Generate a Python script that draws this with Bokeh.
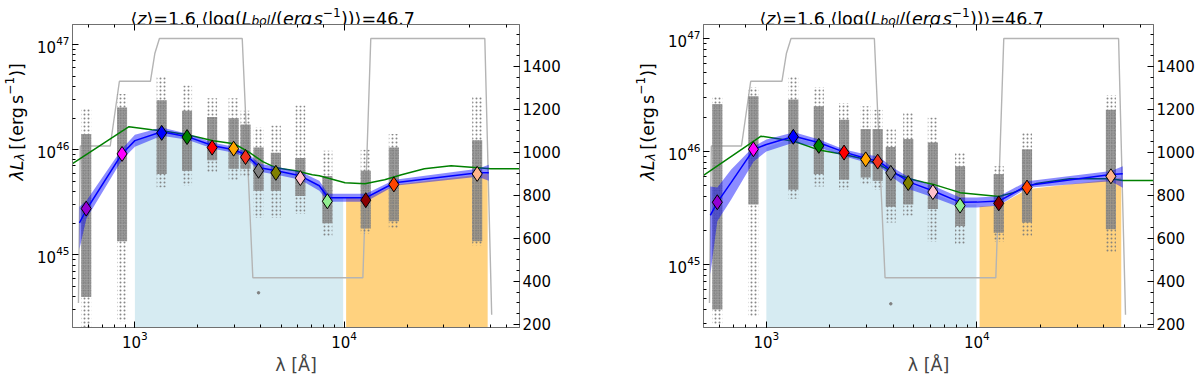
import math
from bokeh.plotting import figure
from bokeh.layouts import row, column
from bokeh.models import (Range1d, LinearAxis, LogAxis, LogTicker, Label,
                          SingleIntervalTicker, LinearScale)
from bokeh.embed import file_html
from bokeh.resources import INLINE

FONT = "DejaVu Sans"

# ---------------- data ----------------
band_lam = [585, 868, 1343, 1775, 2340, 2965, 3380, 3900, 4720, 6180, 8320, 12700, 17300, 43300]
band_colors = ["darkviolet", "magenta", "blue", "green", "red", "orange", "#f0321e",
               "gray", "olive", "pink", "lightgreen", "darkred", "orangered", "#ffb38a"]

# median SED points (log10 lambda L_lambda)
left_diamond_logL = [45.44, 45.96, 46.16, 46.12, 46.02, 46.01, 45.93, 45.80, 45.78, 45.73, 45.51, 45.52, 45.67, 45.77]
right_diamond_logL = [45.55, 46.02, 46.13, 46.05, 45.99, 45.93, 45.91, 45.81, 45.72, 45.64, 45.52, 45.54, 45.68, 45.78]

# individual sources per band: dense core range and sparse range (log10)
left_core_lo = [44.60, 45.13, 45.77, 45.80, 45.90, 45.82, 45.82, 45.61, 45.61, 45.56, 45.30, 45.25, 45.32, 45.13]
left_core_hi = [46.15, 46.40, 46.47, 46.37, 46.31, 46.30, 46.24, 46.02, 45.97, 45.92, 45.75, 45.80, 46.02, 46.09]
left_tail_lo = [44.30, 44.37, 45.64, 45.66, 45.78, 45.71, 45.75, 45.35, 45.35, 45.39, 45.18, 45.20, 45.25, 45.09]
left_tail_hi = [46.39, 46.53, 46.70, 46.61, 46.49, 46.49, 46.37, 46.21, 46.23, 46.42, 45.99, 46.00, 46.15, 46.51]
right_core_lo = [44.60, 45.53, 45.66, 45.80, 45.75, 45.77, 45.74, 45.51, 45.53, 45.49, 45.34, 45.28, 45.37, 45.31]
right_core_hi = [46.42, 46.49, 46.46, 46.40, 46.28, 46.20, 46.20, 46.04, 46.11, 46.08, 45.87, 45.80, 46.02, 46.37]
right_tail_lo = [44.47, 44.54, 45.58, 45.69, 45.66, 45.71, 45.66, 45.37, 45.43, 45.20, 45.18, 45.20, 45.25, 45.11]
right_tail_hi = [46.49, 46.57, 46.66, 46.57, 46.43, 46.40, 46.37, 46.20, 46.35, 46.30, 45.99, 45.87, 46.17, 46.50]
left_outlier_lam = [3900]
left_outlier_logL = [44.64]
right_outlier_lam = [3900]
right_outlier_logL = [44.65]

# mean SED (blue line) with its uncertainty band
left_blue_lam = [543, 586, 868, 1000, 1343, 1783, 2366, 2976, 3395, 3955, 4761, 6180, 7613, 8395, 10000, 12710, 17450, 43630, 49200]
left_blue_logL = [45.305, 45.429, 45.962, 46.086, 46.171, 46.124, 46.038, 46.0, 45.952, 45.829, 45.80, 45.752, 45.657, 45.543, 45.543, 45.543, 45.686, 45.781, 45.781]
left_blue_hi = [45.457, 45.514, 46.01, 46.143, 46.21, 46.152, 46.067, 46.029, 45.981, 45.867, 45.838, 45.79, 45.705, 45.581, 45.581, 45.581, 45.714, 45.819, 45.857]
left_blue_lo = [45.057, 45.343, 45.905, 46.029, 46.133, 46.095, 46.01, 45.971, 45.924, 45.79, 45.762, 45.714, 45.61, 45.505, 45.505, 45.505, 45.657, 45.743, 45.705]

right_blue_lam = [542, 585, 681, 871, 1000, 1355, 1781, 2345, 2979, 3420, 3909, 4775, 6223, 8330, 10000, 12735, 17340, 43350, 49300]
right_blue_logL = [45.434, 45.549, 45.726, 46.018, 46.062, 46.135, 46.077, 45.994, 45.938, 45.914, 45.832, 45.728, 45.649, 45.549, 45.551, 45.56, 45.699, 45.796, 45.803]
right_blue_hi = [45.69, 45.681, 45.841, 46.044, 46.106, 46.171, 46.106, 46.018, 45.973, 45.956, 45.867, 45.77, 45.693, 45.593, 45.593, 45.602, 45.737, 45.826, 45.87]
right_blue_lo = [44.912, 45.381, 45.575, 45.912, 46.0, 46.08, 46.035, 45.958, 45.903, 45.876, 45.779, 45.664, 45.593, 45.504, 45.504, 45.522, 45.679, 45.737, 45.679]

# model SED (green line)
left_green_lam = [503, 937, 1204, 1343, 1783, 2366, 2976, 3548, 4086, 4709, 5864, 7050, 7613, 10110, 12580, 15630, 18820, 24210, 32490, 43630, 50260, 69000]
left_green_logL = [45.867, 46.219, 46.19, 46.181, 46.143, 46.086, 46.057, 45.971, 45.886, 45.829, 45.80, 45.762, 45.752, 45.686, 45.676, 45.714, 45.762, 45.819, 45.848, 45.829, 45.819, 45.819]
right_green_lam = [503, 944, 1355, 1781, 2345, 2979, 3420, 4178, 4775, 5585, 6223, 8330, 12735, 14880, 19190, 27600, 43350, 49300, 69000]
right_green_logL = [45.788, 46.135, 46.091, 46.012, 45.973, 45.929, 45.885, 45.796, 45.758, 45.728, 45.708, 45.635, 45.60, 45.635, 45.717, 45.758, 45.758, 45.743, 45.743]

# integration regions (UV-optical and IR)
left_uv_lam = [1000, 1343, 1783, 2366, 2976, 3395, 3955, 4761, 6180, 7613, 8395, 9900]
left_uv_top = [46.086, 46.171, 46.124, 46.038, 46.0, 45.952, 45.829, 45.80, 45.752, 45.657, 45.543, 45.543]
left_ir_lam = [10230, 12710, 17450, 43630, 48600]
left_ir_top = [45.543, 45.533, 45.667, 45.762, 45.77]
right_uv_lam = [1000, 1355, 1781, 2345, 2979, 3420, 3909, 4775, 6223, 8330, 9950]
right_uv_top = [46.035, 46.124, 46.062, 45.982, 45.929, 45.903, 45.823, 45.717, 45.628, 45.531, 45.531]
right_ir_lam = [10300, 12735, 17340, 43350, 48500]
right_ir_top = [45.513, 45.522, 45.664, 45.752, 45.77]

# number of sources per wavelength (grey line, right axis)
count_lam = [537, 548, 762, 843, 1186, 1245, 1310, 3259, 3663, 12300, 13420, 47100, 50800]
count_val = [300, 1030, 1030, 1331, 1331, 1460, 1530, 1530, 417, 417, 1530, 1530, 245]

right_axis_range = (186, 1595)
x_range = (503, 69000)
left_y_range = (44.31, 47.19)
right_y_range = (44.44, 47.125)

# ---------------- text helpers ----------------
W = {' ': 651, '(': 799, ')': 799, '.': 651, '/': 690, '=': 1716, 'L': 1141, 'b': 1300,
     'e': 1260, 'g': 1300, 'l': 569, 'o': 1253, 'r': 842, 's': 1067, 'z': 1075, '[': 799,
     ']': 799, 'Å': 1401, 'λ': 1212, '⟨': 800, '⟩': 800, '−': 1716}
for d in "0123456789":
    W[d] = 1303


def tw(s, size):
    return sum(W.get(c, 1200) for c in s) / 2048.0 * size


def seg_style(text, italic, fs):
    return dict(text=text, text_font=FONT, text_font_size=f"{fs:.1f}px",
                text_font_style="italic" if italic else "normal", text_color="black",
                x_units="screen", y_units="screen")


def rich_h(p, x0, y0, segs, size):
    pos = x0
    for text, italic, kind in segs:
        if kind == "gap":
            pos += float(text) * size
            continue
        sc = 0.7 if kind in ("sub", "sup") else 1.0
        shift = {"sub": -0.14, "sup": 0.32}.get(kind, 0.0) * size
        fs = size * sc
        p.add_layout(Label(x=pos, y=y0 + shift, text_align="left", text_baseline="alphabetic",
                           **seg_style(text, italic, fs)))
        pos += tw(text, fs)


def rich_v(p, xmid, y0, segs, size):
    # rotated text (reads bottom to top); each piece centred on its own slot
    pos = y0
    for text, italic, kind in segs:
        if kind == "gap":
            pos += float(text) * size
            continue
        sc = 0.7 if kind in ("sub", "sup") else 1.0
        shift = {"sub": -0.2, "sup": 0.4}.get(kind, 0.0) * size
        fs = size * sc
        w = tw(text, fs)
        p.add_layout(Label(x=xmid - shift, y=pos + w / 2.0, angle=math.pi / 2,
                           text_align="center", text_baseline="middle",
                           **seg_style(text, italic, fs)))
        pos += w


title_segs = [("⟨", False, ""), ("z", True, ""), ("⟩=1.6 ⟨log(", False, ""), ("L", True, ""),
              ("bol", True, "sub"), ("/(", False, ""), ("erg", True, ""), ("0.1", False, "gap"),
              ("s", True, ""), ("−1", False, "sup"), ("))⟩=46.7", False, "")]
ylab_segs = [("λL", True, ""), ("λ", True, "sub"), ("0.2", False, "gap"), ("[(", False, ""),
             ("erg", False, ""), ("0.17", False, "gap"), ("s", False, ""), ("−1", False, "sup"),
             (")]", False, "")]


def text_fig(w, h):
    f = figure(width=w, height=h, x_range=Range1d(0, 1), y_range=Range1d(0, 1),
               x_axis_location=None, y_axis_location=None, min_border=0,
               output_backend="svg", toolbar_location=None)
    f.grid.visible = False
    f.outline_line_color = None
    f.background_fill_color = "white"
    f.border_fill_color = "white"
    return f


def style_axis(ax, labels=True):
    ax.major_tick_in = 6
    ax.major_tick_out = 0
    ax.minor_tick_in = 3
    ax.minor_tick_out = 0
    ax.axis_line_color = "#707070"
    ax.major_tick_line_color = "black"
    ax.minor_tick_line_color = "black"
    ax.major_label_text_font = FONT
    ax.major_label_text_font_size = "15px" if labels else "1px"
    ax.major_label_text_color = "black"
    ax.major_label_text_alpha = 1.0 if labels else 0.0
    ax.major_label_standoff = 3 if labels else 0


TITLE_H = 24
MAIN_H = 353
YLAB_W = 34


def panel(width, mb_right, yr, diam, core_lo, core_hi, tail_lo, tail_hi, out_lam, out_L,
          blam, bL, bhi, blo, glam, gL, uvl, uvt, irl, irt):
    p = figure(x_axis_type="log", y_axis_type="log",
               x_range=Range1d(*x_range), y_range=Range1d(10 ** yr[0], 10 ** yr[1]),
               width=width, height=MAIN_H, min_border_left=34,
               min_border_right=mb_right, min_border_top=0, min_border_bottom=47,
               output_backend="svg", toolbar_location=None)
    p.extra_y_ranges = {"cnt": Range1d(*right_axis_range)}
    p.extra_y_scales = {"cnt": LinearScale()}
    p.grid.visible = False
    p.outline_line_color = "#707070"
    p.background_fill_color = "white"
    p.border_fill_color = "white"
    ybot = 10 ** 44.0

    # integration regions
    p.varea(x=uvl, y1=[ybot] * len(uvl), y2=[10 ** v for v in uvt], fill_color="lightblue", fill_alpha=0.5)
    p.varea(x=irl, y1=[ybot] * len(irl), y2=[10 ** v for v in irt], fill_color="orange", fill_alpha=0.5)

    # source count line
    p.line(count_lam, count_val, y_range_name="cnt", line_color="#b4b4b4", line_width=1.4)

    # individual sources
    f = 10 ** 0.024
    left = [l / f for l in band_lam]
    right = [l * f for l in band_lam]
    p.quad(left=left, right=right, bottom=[10 ** v for v in tail_lo], top=[10 ** v for v in tail_hi],
           fill_alpha=0, line_alpha=0, hatch_pattern="dot", hatch_color="#7a7a7a",
           hatch_scale=4, hatch_weight=1, hatch_alpha=0.9)
    p.quad(left=left, right=right, bottom=[10 ** v for v in core_lo], top=[10 ** v for v in core_hi],
           fill_color="#8c8c8c", fill_alpha=0.85, line_alpha=0, hatch_pattern="dot",
           hatch_color="#6a6a6a", hatch_scale=2.5, hatch_weight=1, hatch_alpha=1.0)
    p.scatter(out_lam, [10 ** v for v in out_L], size=2.5, color="#808080")

    # green model
    p.line(glam, [10 ** v for v in gL], line_color="green", line_width=1.5)
    # blue band & line
    p.varea(x=blam, y1=[10 ** v for v in blo], y2=[10 ** v for v in bhi], fill_color="blue", fill_alpha=0.45)
    p.line(blam, [10 ** v for v in bL], line_color="blue", line_width=1.5)
    # median points
    p.scatter(band_lam, [10 ** v for v in diam], marker="diamond", size=15,
              fill_color=band_colors, line_color="black", line_width=1)

    # axes
    style_axis(p.xaxis[0])
    style_axis(p.yaxis[0])
    p.xaxis[0].axis_label = "λ [Å]"
    p.xaxis[0].axis_label_text_font = FONT
    p.xaxis[0].axis_label_text_font_size = "17.5px"
    p.xaxis[0].axis_label_text_font_style = "normal"
    p.xaxis[0].axis_label_standoff = 4
    top = LogAxis(ticker=LogTicker())
    style_axis(top, labels=False)
    p.add_layout(top, "above")
    rax = LinearAxis(y_range_name="cnt", ticker=SingleIntervalTicker(interval=200, num_minor_ticks=4))
    style_axis(rax)
    p.add_layout(rax, "right")
    return p


def full_panel(total_w, mb_right, title_x, *args):
    tfig = text_fig(total_w, TITLE_H)
    rich_h(tfig, title_x, 6, title_segs, 17.5)
    yfig = text_fig(YLAB_W, MAIN_H)
    rich_v(yfig, 16, TITLE_H + MAIN_H - 230, ylab_segs, 17.5)
    main = panel(total_w - YLAB_W, mb_right, *args)
    return column(tfig, row(yfig, main))


left_panel = full_panel(631, 112, 130, left_y_range, left_diamond_logL, left_core_lo, left_core_hi,
                        left_tail_lo, left_tail_hi, left_outlier_lam, left_outlier_logL,
                        left_blue_lam, left_blue_logL, left_blue_hi, left_blue_lo,
                        left_green_lam, left_green_logL, left_uv_lam, left_uv_top,
                        left_ir_lam, left_ir_top)
right_panel = full_panel(569, 47, 128, right_y_range, right_diamond_logL, right_core_lo, right_core_hi,
                         right_tail_lo, right_tail_hi, right_outlier_lam, right_outlier_logL,
                         right_blue_lam, right_blue_logL, right_blue_hi, right_blue_lo,
                         right_green_lam, right_green_logL, right_uv_lam, right_uv_top,
                         right_ir_lam, right_ir_top)

layout = row(left_panel, right_panel)
open("out.html", "w").write(file_html(layout, INLINE))
